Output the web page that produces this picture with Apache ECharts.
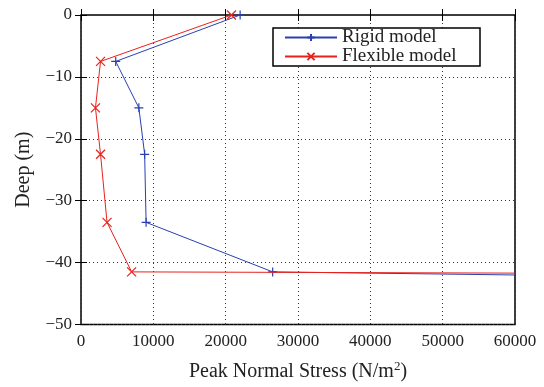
<!DOCTYPE html>
<html>
<head>
<meta charset="utf-8">
<script src="https://cdn.jsdelivr.net/npm/echarts@6/dist/echarts.min.js"></script>
<style>
  html, body { margin: 0; padding: 0; background: #fff; }
  #chart { width: 544px; height: 387px; }
</style>
</head>
<body>
<div id="chart"></div>
<script>
// Peak normal stress profile along depth for the two pile models
const rigidStress    = [22000, 4800, 8000, 8800, 9000, 26500, 60000];
const rigidDepth     = [0, -7.5, -15, -22.5, -33.5, -41.5, -42];
const flexibleStress = [20800, 2700, 2000, 2700, 3600, 7000, 60000];
const flexibleDepth  = [0, -7.5, -15, -22.5, -33.5, -41.5, -41.7];

const xTicks = [0, 10000, 20000, 30000, 40000, 50000, 60000];
const yTicks = [-50, -40, -30, -20, -10, 0];

const FONT = '"Liberation Serif", "DejaVu Serif", serif';

// last point only carries the line off to the edge, no marker there
function toPoints(xs, ys) {
  return xs.map((x, i) => {
    const p = { value: [x, ys[i]] };
    if (i === xs.length - 1) p.symbolSize = 0;
    return p;
  });
}

const plusPath = 'path://M0,5L10,5M5,0L5,10';
const crossPath = 'path://M0,0L10,10M10,0L0,10';

const chart = echarts.init(document.getElementById('chart'), null, { renderer: 'canvas' });

const tickInside = { show: true, inside: true, length: 6, lineStyle: { color: '#000', width: 1 } };
const dotted = { show: true, lineStyle: { color: '#333', type: [1, 3], width: 1 } };

chart.setOption({
  animation: false,
  backgroundColor: '#fff',
  grid: { left: 81, right: 29, top: 15, bottom: 61, show: true, borderColor: '#000', borderWidth: 1.5 },
  legend: {
    left: 273, top: 28,
    orient: 'vertical',
    itemGap: 0,
    itemWidth: 52, itemHeight: 9,
    padding: [0, 10, 0, 11],
    borderColor: '#000', borderWidth: 1.5, borderRadius: 0,
    backgroundColor: '#fff',
    textStyle: { fontFamily: FONT, fontSize: 19, lineHeight: 18, color: '#222', width: 128 },
    data: ['Rigid model', 'Flexible model']
  },
  xAxis: [{
    type: 'value', min: xTicks[0], max: xTicks[xTicks.length - 1], interval: 10000,
    position: 'bottom',
    axisLine: { show: false },
    axisTick: tickInside,
    axisLabel: { fontFamily: FONT, fontSize: 17, color: '#222', margin: 9, formatter: v => String(v) },
    splitLine: dotted,
    name: 'Peak Normal Stress (N/m{sup|2})',
    nameLocation: 'middle', nameGap: 36,
    nameTextStyle: {
      fontFamily: FONT, fontSize: 20, color: '#222',
      rich: { sup: { fontFamily: FONT, fontSize: 13, color: '#222', verticalAlign: 'top', padding: [0, 0, 10, 0] } }
    }
  }, {
    type: 'value', min: xTicks[0], max: xTicks[xTicks.length - 1], interval: 10000,
    position: 'top',
    axisLine: { show: false },
    axisTick: tickInside,
    axisLabel: { show: false },
    splitLine: { show: false }
  }],
  yAxis: [{
    type: 'value', min: yTicks[0], max: yTicks[yTicks.length - 1], interval: 10,
    position: 'left',
    axisLine: { show: false },
    axisTick: tickInside,
    axisLabel: {
      fontFamily: FONT, fontSize: 17, color: '#222', margin: 9,
      formatter: v => String(v).replace('-', '\u2212')
    },
    splitLine: dotted,
    name: 'Deep (m)',
    nameLocation: 'middle', nameGap: 47, nameRotate: 90,
    nameTextStyle: { fontFamily: FONT, fontSize: 20, color: '#222' }
  }, {
    type: 'value', min: yTicks[0], max: yTicks[yTicks.length - 1], interval: 10,
    position: 'right',
    axisLine: { show: false },
    axisTick: tickInside,
    axisLabel: { show: false },
    splitLine: { show: false }
  }],
  series: [{
    name: 'Rigid model',
    type: 'line',
    clip: true,
    data: toPoints(rigidStress, rigidDepth),
    symbol: plusPath,
    symbolSize: 9,
    lineStyle: { color: '#2b3fb0', width: 1 },
    itemStyle: { color: 'none', borderColor: '#2b3fb0', borderWidth: 1.2 },
    z: 3
  }, {
    name: 'Flexible model',
    type: 'line',
    clip: true,
    data: toPoints(flexibleStress, flexibleDepth),
    symbol: crossPath,
    symbolSize: 9,
    lineStyle: { color: '#e8221c', width: 1 },
    itemStyle: { color: 'none', borderColor: '#e8221c', borderWidth: 1.2 },
    z: 4
  }]
});
</script>
</body>
</html>
